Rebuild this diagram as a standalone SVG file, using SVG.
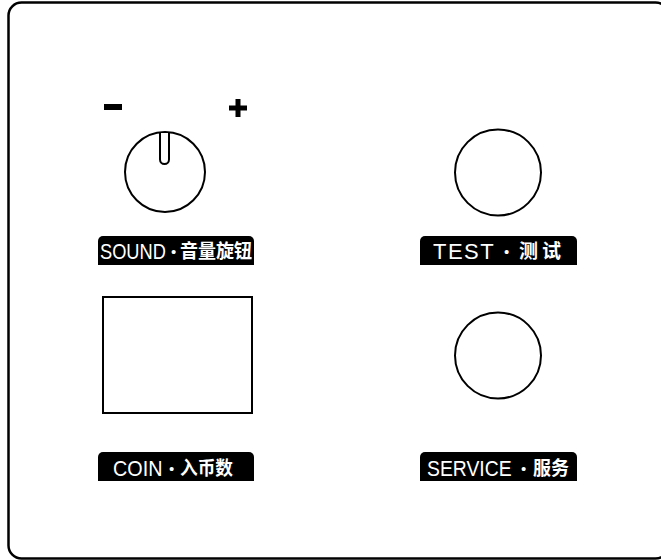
<svg xmlns="http://www.w3.org/2000/svg" width="661" height="560" viewBox="0 0 661 560">
<style>
.ln{fill:#fff;stroke:#000;stroke-width:2}
.lab{fill:#000}
.en{font-family:"Liberation Sans",Arial,sans-serif;font-size:22px;fill:#fff}
.cj{font-family:"Noto Sans CJK SC","Liberation Sans",sans-serif;font-size:19px;font-weight:bold;fill:#fff}
.dot{font-family:"Liberation Sans",Arial,sans-serif;font-size:15px;fill:#fff}
</style>
<rect width="661" height="560" fill="#fff"/>
<rect x="8.5" y="2.5" width="660" height="556" rx="13" fill="none" stroke="#000" stroke-width="2.5"/>
<g id="sound">
<rect x="104" y="104" width="18" height="6" fill="#000"/>
<path d="M229 105.5h18v5h-18z M235.5 99h5v18h-5z" fill="#000"/>
<circle class="ln" cx="165" cy="172" r="40"/>
<path class="ln" d="M160 133 V159.5 A4.5 4.5 0 0 0 169 159.5 V133"/>
<path class="lab" d="M98 265 V241 A5 5 0 0 1 103 236 H249 A5 5 0 0 1 254 241 V265 Z"/>
<text class="en" transform="translate(100 259) scale(0.83 1)">SOUND</text>
<text class="dot" x="171" y="257">•</text>
<text class="cj" x="180" y="258" textLength="72" lengthAdjust="spacingAndGlyphs">音量旋钮</text>
</g>
<g id="test">
<circle class="ln" cx="498" cy="172.5" r="43"/>
<path class="lab" d="M420 265 V241 A5 5 0 0 1 425 236 H572 A5 5 0 0 1 577 241 V265 Z"/>
<text class="en" x="433" y="259" letter-spacing="1.5">TEST</text>
<text class="dot" x="504" y="257">•</text>
<text class="cj" x="519" y="258">测</text>
<text class="cj" x="542" y="258">试</text>
</g>
<g id="coin">
<rect class="ln" x="103" y="297" width="149" height="116"/>
<path class="lab" d="M98 481 V457 A5 5 0 0 1 103 452 H249 A5 5 0 0 1 254 457 V481 Z"/>
<text class="en" transform="translate(113 476) scale(0.9 1)">COIN</text>
<text class="dot" x="169" y="474">•</text>
<text class="cj" x="180" y="475" textLength="53" lengthAdjust="spacingAndGlyphs">入币数</text>
</g>
<g id="service">
<circle class="ln" cx="498" cy="355.5" r="43"/>
<path class="lab" d="M420 481 V457 A5 5 0 0 1 425 452 H572 A5 5 0 0 1 577 457 V481 Z"/>
<text class="en" transform="translate(427 476) scale(0.88 1)">SERVICE</text>
<text class="dot" x="521" y="474">•</text>
<text class="cj" x="533" y="475" textLength="36" lengthAdjust="spacingAndGlyphs">服务</text>
</g>
<g id="connectors"></g>
</svg>
